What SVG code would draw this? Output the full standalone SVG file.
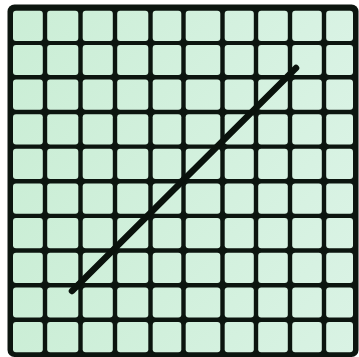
<svg xmlns="http://www.w3.org/2000/svg" xmlns:xlink="http://www.w3.org/1999/xlink" width="359" height="357" viewBox="0 0 359 357">
  <style>
    .frame { fill: #0c150f; }
    .c { fill: url(#cellFill); }
    .diag { stroke: #0a120c; stroke-width: 6.5; stroke-linecap: round; fill: none; }
  </style>
  <defs>
    <linearGradient id="cellFill" gradientUnits="userSpaceOnUse" x1="10" y1="10" x2="355" y2="355">
      <stop offset="0" stop-color="#cbeed6"/>
      <stop offset="1" stop-color="#e6f7f1"/>
    </linearGradient>
    <g id="row">
      <rect class="c" x="13" y="0" width="29.8" height="30.2" rx="3"/>
      <rect class="c" x="47.2" y="0" width="31.1" height="30.2" rx="3"/>
      <rect class="c" x="82.7" y="0" width="30.1" height="30.2" rx="3"/>
      <rect class="c" x="117.2" y="0" width="31.1" height="30.2" rx="3"/>
      <rect class="c" x="152.7" y="0" width="28.6" height="30.2" rx="3"/>
      <rect class="c" x="185.7" y="0" width="34.6" height="30.2" rx="3"/>
      <rect class="c" x="224.7" y="0" width="29.1" height="30.2" rx="3"/>
      <rect class="c" x="258.2" y="0" width="29.6" height="30.2" rx="3"/>
      <rect class="c" x="292.2" y="0" width="29.6" height="30.2" rx="3"/>
      <rect class="c" x="326.2" y="0" width="26.8" height="30.2" rx="3"/>
    </g>
  </defs>
  <rect x="0" y="0" width="359" height="357" fill="#ffffff"/>
  <g id="grid">
    <rect class="frame" x="7.5" y="4.5" width="351" height="352.5" rx="7"/>
    <use href="#row" xlink:href="#row" y="10.8"/>
    <use href="#row" xlink:href="#row" y="44.9"/>
    <use href="#row" xlink:href="#row" y="79.5"/>
    <use href="#row" xlink:href="#row" y="114.2"/>
    <use href="#row" xlink:href="#row" y="148.8"/>
    <use href="#row" xlink:href="#row" y="183.5"/>
    <use href="#row" xlink:href="#row" y="218.1"/>
    <use href="#row" xlink:href="#row" y="252.8"/>
    <use href="#row" xlink:href="#row" y="287.4"/>
    <use href="#row" xlink:href="#row" y="322"/>
  </g>
  <g id="connectors">
    <line class="diag" x1="72" y1="291" x2="296" y2="68"/>
  </g>
</svg>
